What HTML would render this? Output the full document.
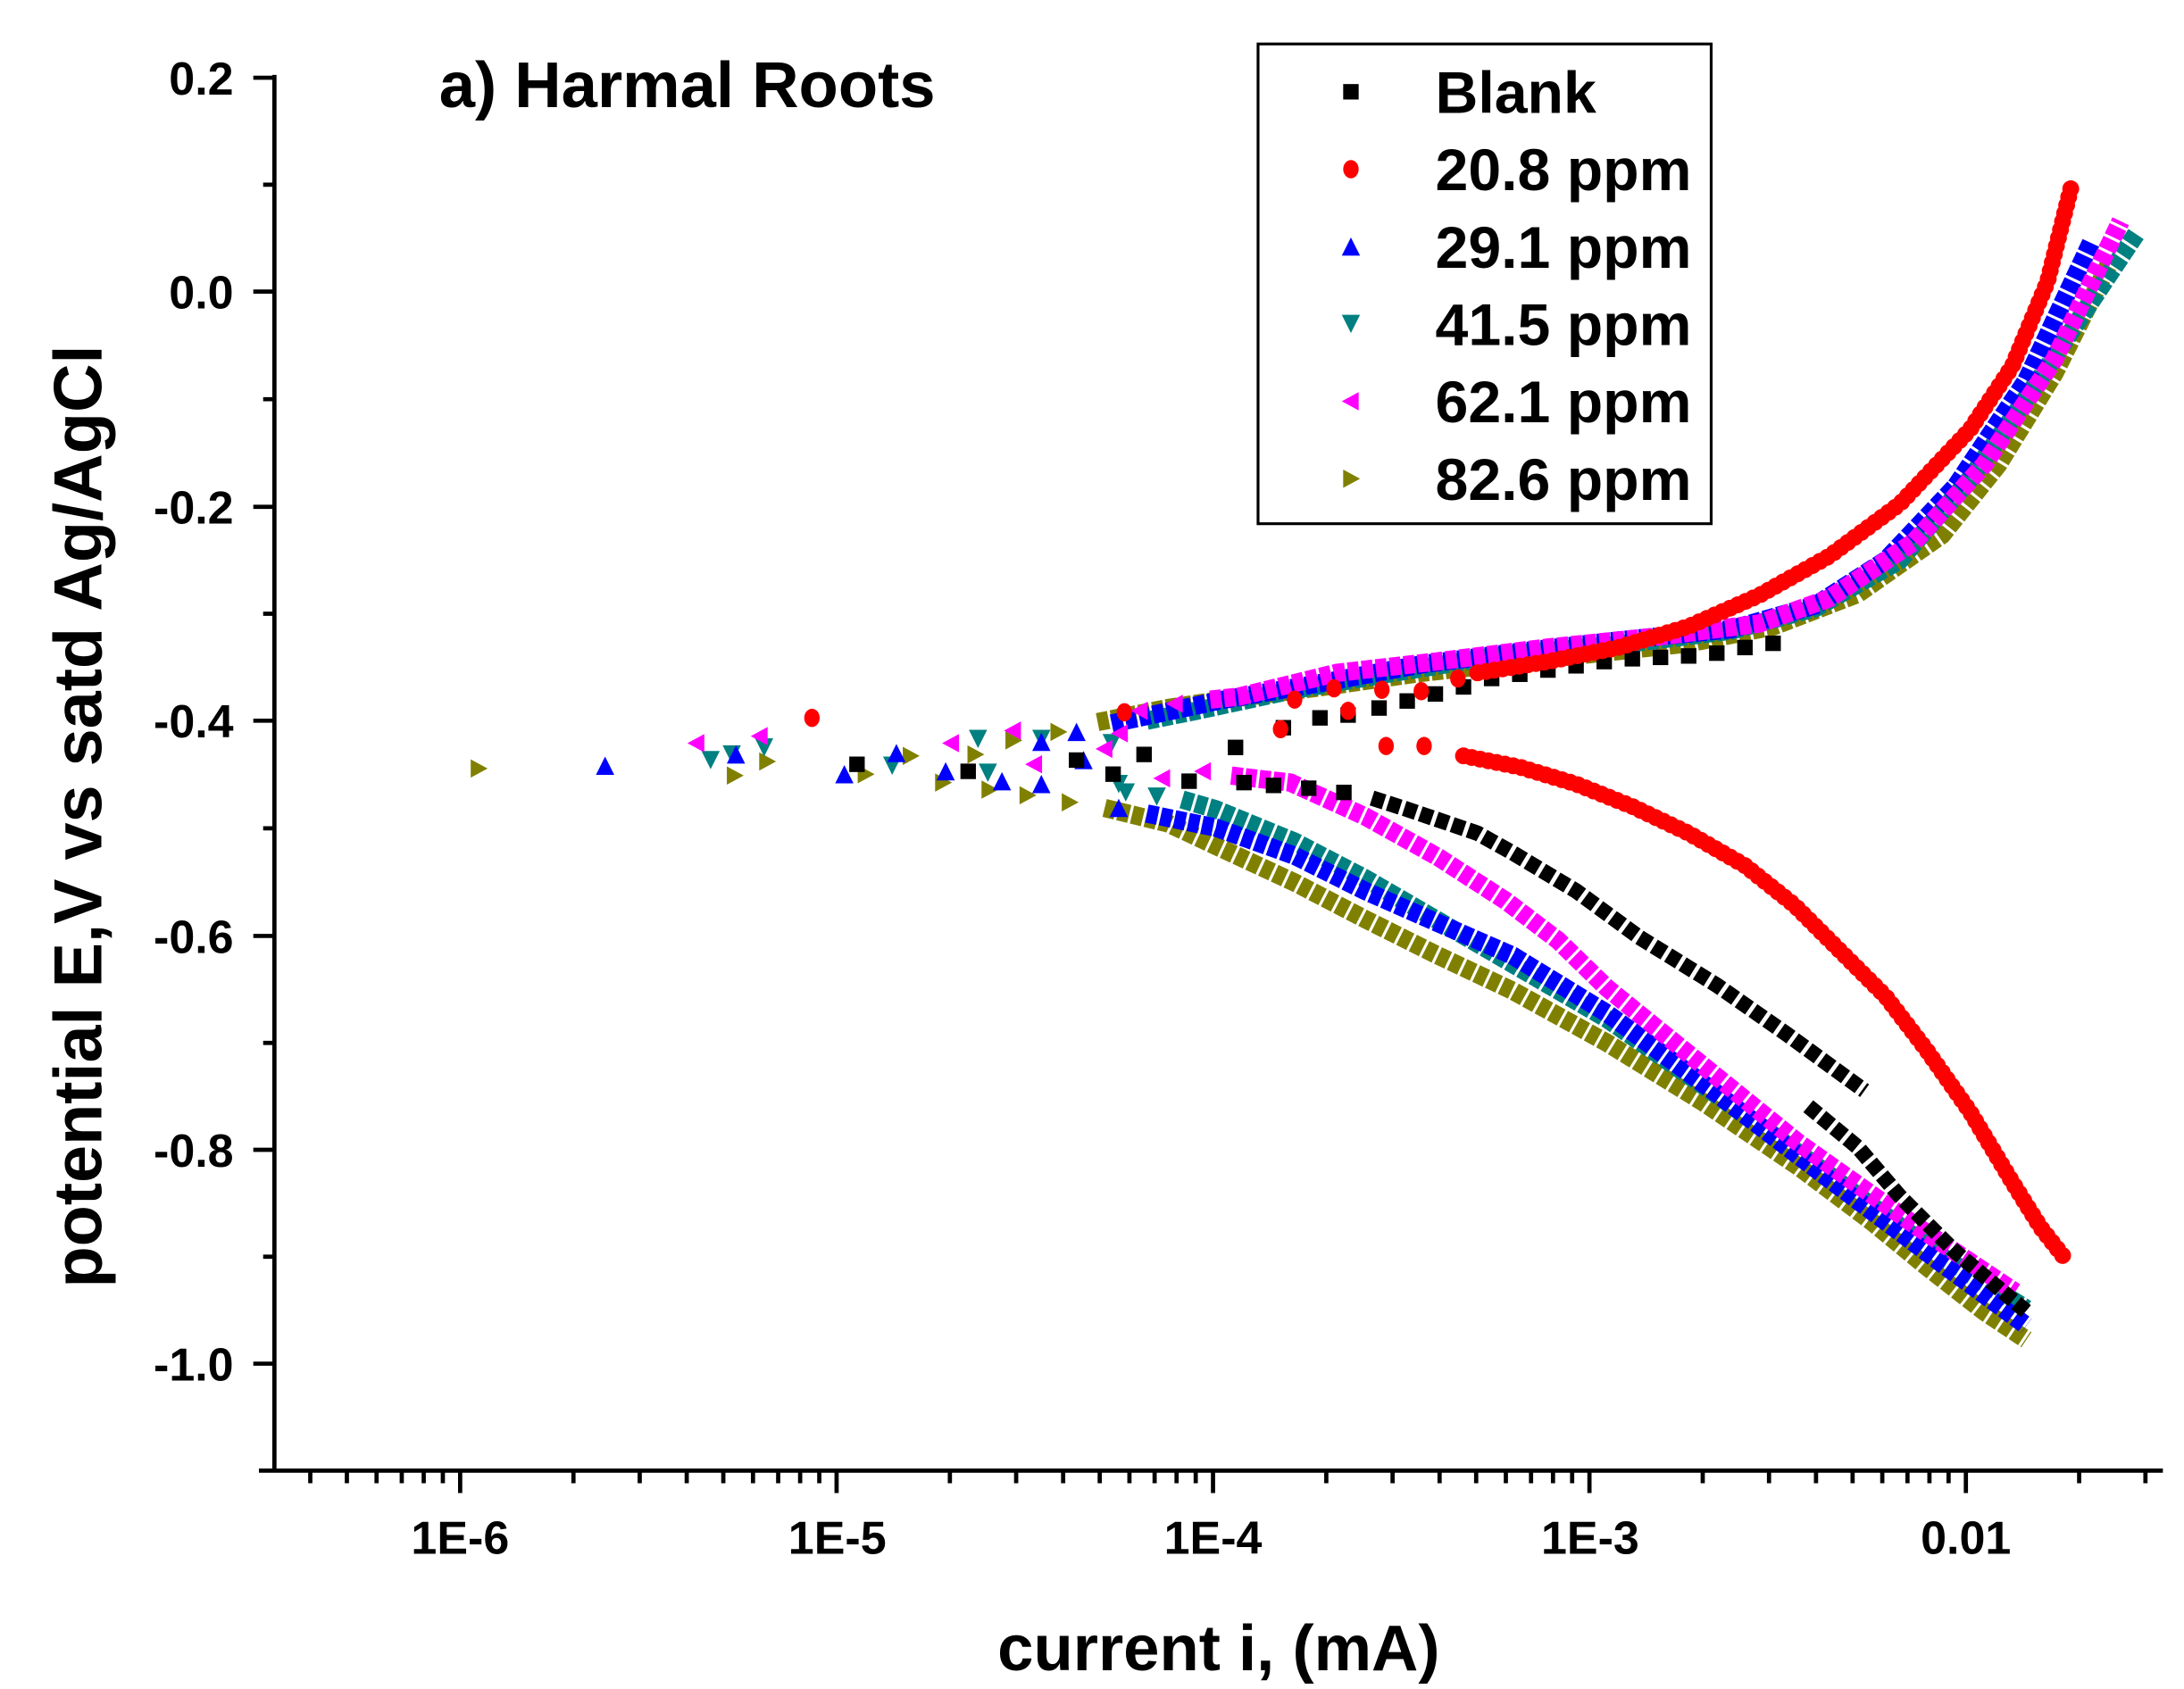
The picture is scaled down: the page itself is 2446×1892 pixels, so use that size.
<!DOCTYPE html>
<html><head><meta charset="utf-8"><style>
html,body{margin:0;padding:0;background:#fff}
svg{display:block}
text{font-family:"Liberation Sans",Arial,sans-serif;font-weight:bold;fill:#000}
</style></head><body>
<svg width="2446" height="1892" viewBox="0 0 1552 1200" xmlns="http://www.w3.org/2000/svg">
<defs>
<polygon id="up" points="0,-6.5 6.5,6.5 -6.5,6.5"/>
<polygon id="dn" points="-6.5,-6.5 6.5,-6.5 0,6.5"/>
<polygon id="lt" points="-6.5,0 5.5,-6.5 5.5,6.5"/>
<polygon id="rt" points="-5.5,-6.5 6.5,0 -5.5,6.5"/>
<rect id="sq" x="-5.5" y="-5.5" width="11" height="11"/>
<ellipse id="ci" cx="0" cy="0" rx="5.5" ry="6.5"/>
</defs>
<rect width="1552" height="1200" fill="#fff"/>
<g stroke="#000" stroke-width="3" fill="none">
<line x1="195" y1="53" x2="195" y2="1046"/>
<line x1="184" y1="1045" x2="1537" y2="1045"/>
<path d="M180 55H195M180 207H195M180 360H195M180 512H195M180 665H195M180 817H195M180 969H195
M187 131H195M187 283.5H195M187 436H195M187 588.5H195M187 741H195M187 893H195"/>
<path d="M327 1045V1061M594.5 1045V1061M862 1045V1061M1129.5 1045V1061M1397 1045V1061
M220.5 1045v9M246.5 1045v9M267.6 1045v9M285.5 1045v9M301.1 1045v9M314.7 1045v9
M407.5 1045v9M454.6 1045v9M488 1045v9M514 1045v9M535.1 1045v9M553 1045v9M568.6 1045v9M582.2 1045v9
M675 1045v9M722.1 1045v9M755.5 1045v9M781.5 1045v9M802.6 1045v9M820.5 1045v9M836.1 1045v9M849.7 1045v9
M942.5 1045v9M989.6 1045v9M1023 1045v9M1049 1045v9M1070.1 1045v9M1088 1045v9M1103.6 1045v9M1117.2 1045v9
M1210 1045v9M1257.1 1045v9M1290.5 1045v9M1316.5 1045v9M1337.6 1045v9M1355.5 1045v9M1371.1 1045v9M1384.7 1045v9
M1477.5 1045v9M1524.6 1045v9"/>
</g>

<!-- olive -->
<g fill="#808000">
<use href="#rt" x="340" y="546"/><use href="#rt" x="522" y="551"/><use href="#rt" x="545" y="541"/><use href="#rt" x="615" y="550"/><use href="#rt" x="647" y="537"/><use href="#rt" x="670" y="556"/><use href="#rt" x="693" y="536"/><use href="#rt" x="703" y="561"/><use href="#rt" x="730" y="565"/><use href="#rt" x="760" y="570"/><use href="#rt" x="720" y="526"/><use href="#rt" x="752" y="520"/>
</g>
<g fill="none" stroke="#808000" stroke-width="13" stroke-dasharray="8 2">
<polyline points="785,574 830,585 864,601 920,627 970,653 1020,678 1075,704 1142,741 1210,783 1278,829 1330,868 1369,900 1410,932 1440,952"/>
<polyline points="780,513 830,503 870,497 940,488 1010,478 1100,468 1200,457 1260,445 1320,422 1380,380 1420,330 1460,265 1500,185"/>
</g>
<!-- teal -->
<g fill="#008080">
<use href="#dn" x="505" y="540"/><use href="#dn" x="520" y="536"/><use href="#dn" x="543" y="531"/><use href="#dn" x="634" y="544"/><use href="#dn" x="695" y="525"/><use href="#dn" x="702" y="549"/><use href="#dn" x="740" y="525"/><use href="#dn" x="790" y="528"/><use href="#dn" x="795" y="557"/><use href="#dn" x="800" y="563"/><use href="#dn" x="822" y="566"/>
</g>
<g fill="none" stroke="#008080" stroke-width="13" stroke-dasharray="8 2">
<polyline points="840,568 864,575 920,598 970,624 1020,653 1075,685 1142,724 1220,778 1300,835 1380,893 1440,930"/>
<polyline points="815,512 850,505 920,490 990,478 1070,465 1150,458 1230,448 1290,432 1350,398 1400,340 1450,268 1518,166"/>
</g>
<!-- blue -->
<g fill="#0000ff">
<use href="#up" x="430" y="544"/><use href="#up" x="523" y="536"/><use href="#up" x="600" y="550"/><use href="#up" x="637" y="535"/><use href="#up" x="672" y="548"/><use href="#up" x="712" y="555"/><use href="#up" x="740" y="557"/><use href="#up" x="770" y="540"/><use href="#up" x="795" y="574"/><use href="#up" x="740" y="527"/><use href="#up" x="765" y="520"/>
</g>
<g fill="none" stroke="#0000ff" stroke-width="13" stroke-dasharray="8 2">
<polyline points="815,578 864,588 920,608 970,633 1020,655 1075,679 1142,720 1220,777 1300,838 1380,898 1440,942"/>
<polyline points="790,514 870,497 940,485 1010,472 1080,463 1150,455 1230,447 1290,430 1340,398 1390,345 1440,270 1486,172"/>
</g>
<!-- magenta -->
<g fill="#ff00ff">
<use href="#lt" x="495" y="528"/><use href="#lt" x="540" y="523"/><use href="#lt" x="676" y="528"/><use href="#lt" x="720" y="519"/><use href="#lt" x="735" y="543"/><use href="#lt" x="785" y="532"/><use href="#lt" x="796" y="521"/><use href="#lt" x="826" y="553"/><use href="#lt" x="855" y="548"/><use href="#lt" x="810" y="505"/><use href="#lt" x="835" y="500"/>
</g>
<g fill="none" stroke="#ff00ff" stroke-width="13" stroke-dasharray="8 2">
<polyline points="875,551 917,556 970,580 1022,609 1070,640 1107,668 1142,702 1210,757 1278,812 1360,870 1432,918"/>
<polyline points="860,497 880,495 950,478 1020,470 1100,460 1180,452 1250,443 1300,425 1360,385 1410,330 1460,255 1507,157"/>
</g>
<!-- black -->
<g fill="#000">
<use href="#sq" x="609" y="543"/><use href="#sq" x="688" y="548"/><use href="#sq" x="765" y="540"/><use href="#sq" x="791" y="550"/><use href="#sq" x="813" y="536"/><use href="#sq" x="845" y="555"/><use href="#sq" x="878" y="531"/><use href="#sq" x="884" y="556"/><use href="#sq" x="912" y="517"/><use href="#sq" x="938" y="510"/><use href="#sq" x="958" y="508"/><use href="#sq" x="905" y="558"/><use href="#sq" x="930" y="560"/><use href="#sq" x="955" y="563"/>
<use href="#sq" x="980" y="503"/><use href="#sq" x="1000" y="498"/><use href="#sq" x="1020" y="493"/><use href="#sq" x="1040" y="488"/><use href="#sq" x="1060" y="482"/><use href="#sq" x="1080" y="479"/><use href="#sq" x="1100" y="476"/><use href="#sq" x="1120" y="473"/><use href="#sq" x="1140" y="470"/><use href="#sq" x="1160" y="468"/><use href="#sq" x="1180" y="467"/><use href="#sq" x="1200" y="466"/><use href="#sq" x="1220" y="464"/><use href="#sq" x="1240" y="460"/><use href="#sq" x="1260" y="457"/>
</g>
<g fill="none" stroke="#000" stroke-width="11" stroke-dasharray="9 3">
<polyline points="975,567 1000,575 1050,592 1075,606 1120,633 1165,666 1220,700 1270,735 1325,775"/>
<polyline points="1285,786 1320,815 1350,850 1390,890 1440,932"/>
</g>
<!-- red -->
<g fill="#ff0000">
<use href="#ci" x="577" y="510"/><use href="#ci" x="799" y="506"/><use href="#ci" x="910" y="518"/><use href="#ci" x="920" y="497"/><use href="#ci" x="948" y="489"/><use href="#ci" x="958" y="505"/><use href="#ci" x="982" y="490"/><use href="#ci" x="985" y="530"/><use href="#ci" x="1010" y="491"/><use href="#ci" x="1012" y="530"/><use href="#ci" x="1036" y="482"/>
</g>
<g fill="none" stroke="#ff0000" stroke-width="12" stroke-linecap="round" stroke-dasharray="0 6">
<polyline points="1040,537 1080,545 1120,557 1160,573 1200,592 1240,615 1275,643 1300,668 1340,708 1369,746 1400,790 1430,840 1450,872 1468,895"/>
<polyline points="1050,478 1100,470 1150,460 1200,445 1250,423 1300,395 1350,358 1400,305 1430,260 1455,200 1472,132"/>
</g>

<g font-size="33" text-anchor="end">
<text x="166" y="67">0.2</text>
<text x="166" y="219">0.0</text>
<text x="166" y="372">-0.2</text>
<text x="166" y="524">-0.4</text>
<text x="166" y="677">-0.6</text>
<text x="166" y="829">-0.8</text>
<text x="166" y="981">-1.0</text>
</g>
<g font-size="33" text-anchor="middle">
<text x="327" y="1104">1E-6</text>
<text x="595" y="1104">1E-5</text>
<text x="862" y="1104">1E-4</text>
<text x="1130" y="1104">1E-3</text>
<text x="1397" y="1104">0.01</text>
</g>
<text x="866" y="1187" font-size="46" text-anchor="middle">current i, (mA)</text>
<text transform="translate(72 580) rotate(-90)" font-size="48" text-anchor="middle">potential E,V vs satd Ag/AgCl</text>
<text x="312" y="76" font-size="46">a) Harmal Roots</text>
<rect x="894" y="31" width="322" height="341" fill="none" stroke="#000" stroke-width="2"/>
<g font-size="42">
<text x="1020" y="80">Blank</text>
<text x="1020" y="135">20.8 ppm</text>
<text x="1020" y="190">29.1 ppm</text>
<text x="1020" y="245">41.5 ppm</text>
<text x="1020" y="300">62.1 ppm</text>
<text x="1020" y="355">82.6 ppm</text>
</g>
<use href="#sq" x="960" y="65" fill="#000"/>
<use href="#ci" x="960" y="120" fill="#ff0000"/>
<use href="#up" x="960" y="175" fill="#0000ff"/>
<use href="#dn" x="960" y="230" fill="#008080"/>
<use href="#lt" x="960" y="285" fill="#ff00ff"/>
<use href="#rt" x="960" y="340" fill="#808000"/>
</svg>
</body></html>
